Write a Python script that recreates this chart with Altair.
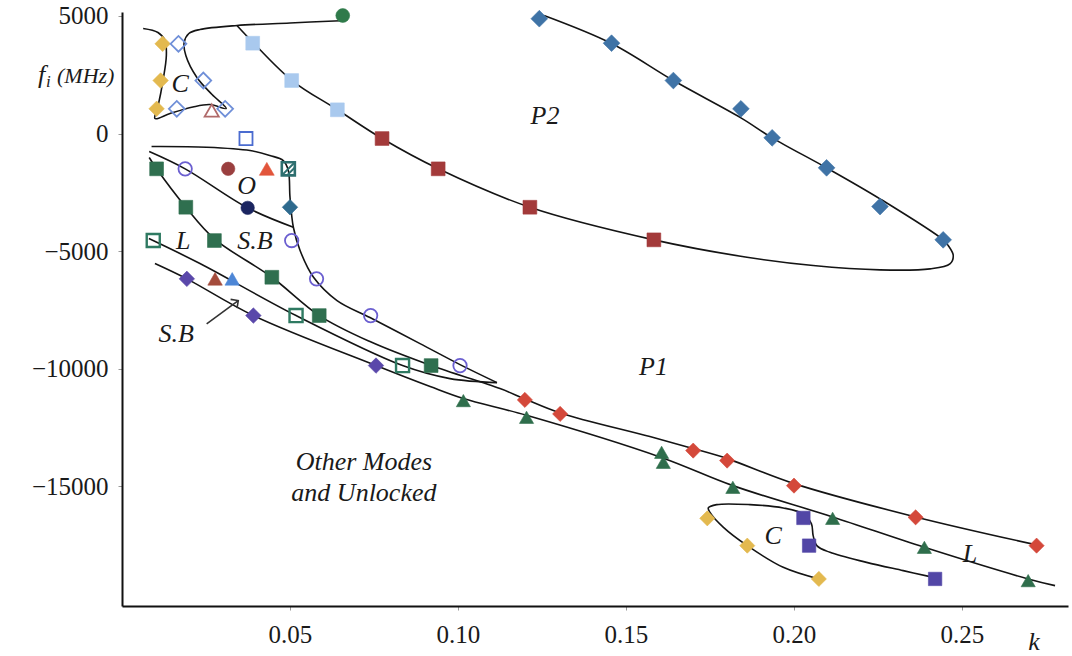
import altair as alt
import pandas as pd

# ---------------- marker series (k = injection strength, f = detuning in MHz) ----------------
p2_upper_k = [0.1242, 0.1457, 0.1641, 0.1842, 0.1935, 0.2097, 0.2256, 0.2444]
p2_upper_f = [4885, 3843, 2255, 1051, -183, -1460, -3106, -4523]

p2_lower_k = [0.0774, 0.0941, 0.1214, 0.1583]
p2_lower_f = [-213, -1502, -3136, -4523]

p2_light_k = [0.0389, 0.0505, 0.0641]
p2_light_f = [3843, 2255, 1009]

top_circle_k = [0.0657]
top_circle_f = [5021]

chaos_top_k = [0.0121, 0.0115, 0.0103]
chaos_top_f = [3817, 2255, 1051]

open_diamond_k = [0.0168, 0.0242, 0.0163, 0.0307]
open_diamond_f = [3817, 2255, 1051, 1051]

open_tri_k = [0.0267]
open_tri_f = [979]

open_blue_sq_k = [0.0369]
open_blue_sq_f = [-213]

green_sq_k = [0.0103, 0.0190, 0.0275, 0.0446, 0.0587, 0.0920]
green_sq_f = [-1502, -3136, -4553, -6115, -7745, -9872]

open_circle_k = [0.0188, 0.0505, 0.0579, 0.0740, 0.1006]
open_circle_f = [-1502, -4553, -6183, -7745, -9872]

brown_circle_k = [0.0316]
brown_circle_f = [-1502]

orange_tri_k = [0.0431]
orange_tri_f = [-1502]

hatched_sq_k = [0.0495]
hatched_sq_f = [-1502]

navy_circle_k = [0.0374]
navy_circle_f = [-3162]

teal_diamond_k = [0.0500]
teal_diamond_f = [-3136]

open_teal_sq_k = [0.0093, 0.0518, 0.0835]
open_teal_sq_f = [-4553, -7745, -9872]

purple_diamond_k = [0.0193, 0.0391, 0.0756]
purple_diamond_f = [-6183, -7745, -9872]

brown_tri_k = [0.0277]
brown_tri_f = [-6183]

blue_tri_k = [0.0328]
blue_tri_f = [-6183]

red_diamond_k = [0.1199, 0.1304, 0.1700, 0.1801, 0.2000, 0.2362, 0.2722]
red_diamond_f = [-11332, -11928, -13489, -13915, -14979, -16328, -17532]

green_tri_k = [0.1016, 0.1204, 0.1606, 0.1611, 0.1818, 0.2115, 0.2388, 0.2697]
green_tri_f = [-11362, -12072, -13562, -13987, -15051, -16370, -17604, -19021]

chaos_low_k = [0.1742, 0.1861, 0.2074]
chaos_low_f = [-16370, -17532, -18949]

purple_sq_k = [0.2028, 0.2045, 0.2420]
purple_sq_f = [-16353, -17532, -18949]

# ---------------- boundary curves ----------------
chaos_loop_k = [0.0063, 0.0107, 0.0128, 0.0132, 0.0122, 0.0107, 0.0098, 0.0143, 0.0211,
                0.0262, 0.0310, 0.0268, 0.0223, 0.0190, 0.0185, 0.0199, 0.0232, 0.0342,
                0.0500, 0.0650]
chaos_loop_f = [4468, 4298, 3957, 3319, 2255, 1149, 638, 851, 1128,
                1234, 1064, 1660, 2383, 3319, 3872, 4255, 4426, 4596,
                4702, 4800]

p2_loop_k = [0.0342, 0.0390, 0.0506, 0.0640, 0.0774, 0.0940, 0.1214, 0.1583, 0.1860,
             0.2057, 0.2256, 0.2405, 0.2464, 0.2474, 0.2459, 0.2444, 0.2256, 0.2097,
             0.1935, 0.1842, 0.1641, 0.1457, 0.1256]
p2_loop_f = [4596, 3872, 2255, 1021, -213, -1489, -3136, -4523, -5264,
             -5617, -5800, -5757, -5545, -5191, -4766, -4523, -2779, -1460,
             -183, 668, 2255, 3830, 5021]

o_upper_k = [0.0088, 0.0252, 0.0381, 0.0440, 0.0480, 0.0495, 0.0500, 0.0510, 0.0530,
             0.0570, 0.0640, 0.0738, 0.0887, 0.1006, 0.1116]
o_upper_f = [-553, -581, -723, -936, -1149, -1574, -2709, -3986, -4978,
             -6115, -7106, -7830, -8937, -9830, -10596]

o_lower_k = [0.0081, 0.0188, 0.0374, 0.0510]
o_lower_f = [-766, -1502, -3162, -3986]

sb_upper_k = [0.0081, 0.0103, 0.0190, 0.0274, 0.0446, 0.0587, 0.0738, 0.0920, 0.1125,
              0.1199, 0.1304, 0.1571, 0.1700, 0.1801, 0.2000, 0.2362, 0.2732]
sb_upper_f = [-1021, -1502, -3136, -4468, -6115, -7745, -8852, -9872, -10851,
              -11290, -11886, -12893, -13404, -13830, -14894, -16311, -17532]

lock_k = [0.0080, 0.0232, 0.0518, 0.0835, 0.0976, 0.1116]
lock_f = [-4468, -5532, -7745, -9872, -10426, -10596]

sb_lower_k = [0.0098, 0.0193, 0.0391, 0.0756, 0.0917, 0.1016, 0.1204, 0.1605, 0.1818,
              0.2115, 0.2388, 0.2697, 0.2777]
sb_lower_f = [-5532, -6183, -7745, -9872, -10766, -11277, -11987, -13781, -14979,
              -16311, -17604, -18949, -19234]

chaos_low_loop_k = [0.2074, 0.1968, 0.1861, 0.1790, 0.1750, 0.1745, 0.1770, 0.1869, 0.1968,
                    0.2028, 0.2052, 0.2057, 0.2068, 0.2107, 0.2216, 0.2325, 0.2405]
chaos_low_loop_f = [-18949, -18455, -17532, -16753, -16115, -15928, -15787, -15787, -15928,
                    -16183, -16609, -17106, -17532, -17817, -18243, -18596, -18851]

# ---------------- region labels ----------------
label_text = ["C", "O", "S.B", "L", "S.B", "P2", "P1", "Other Modes", "and Unlocked", "C", "L"]
label_k = [0.0173, 0.0371, 0.0396, 0.0182, 0.0161, 0.1259, 0.1582, 0.0720, 0.0720, 0.1938, 0.2524]
label_f = [2114, -2213, -4553, -4553, -8520, 766, -9944, -13987, -15276, -17106, -17886]

# arrow pointing from the lower S.B label to its boundary
arrow_k = [0.0252, 0.0346]
arrow_f = [-8094, -7106]

K_TICKS = [0.05, 0.10, 0.15, 0.20, 0.25]
F_TICKS = [5000, 0, -5000, -10000, -15000]
K_DOMAIN = [0, 0.28155]
F_DOMAIN = [-20100, 5170]

FONT = "Liberation Serif, Times New Roman, Times, serif"

xs = alt.Scale(domain=K_DOMAIN, nice=False, zero=False)
ys = alt.Scale(domain=F_DOMAIN, nice=False, zero=False)

x_axis = alt.Axis(values=K_TICKS, format=".2f", title=None,
                  labelFont=FONT, labelFontSize=25, labelColor="#1a1a1a",
                  labelPadding=12, tickSize=4, tickColor="#999999", tickWidth=1,
                  domainColor="#111111", domainWidth=2, grid=False, labelFlush=False)
y_axis = alt.Axis(values=F_TICKS, format="d", title=None,
                  labelFont=FONT, labelFontSize=25, labelColor="#1a1a1a",
                  labelPadding=10, tickSize=4, tickColor="#999999", tickWidth=1,
                  domainColor="#111111", domainWidth=2, grid=False, labelFlush=False)

X = alt.X("k:Q", scale=xs, axis=x_axis)
Y = alt.Y("f:Q", scale=ys, axis=y_axis)


def pts(k, f):
    return pd.DataFrame({"k": k, "f": f})


def marker(k, f, shape, color, filled=True, size=200, stroke_width=1.8):
    if filled:
        m = alt.Chart(pts(k, f)).mark_point(shape=shape, filled=True, fill=color,
                                            stroke=color, strokeWidth=0.6,
                                            size=size, opacity=1)
    else:
        m = alt.Chart(pts(k, f)).mark_point(shape=shape, filled=False, stroke=color,
                                            strokeWidth=stroke_width, size=size, opacity=1)
    return m.encode(x=X, y=Y)


curve_sets = [
    ("chaos_loop", chaos_loop_k, chaos_loop_f),
    ("p2_loop", p2_loop_k, p2_loop_f),
    ("o_upper", o_upper_k, o_upper_f),
    ("o_lower", o_lower_k, o_lower_f),
    ("sb_upper", sb_upper_k, sb_upper_f),
    ("lock", lock_k, lock_f),
    ("sb_lower", sb_lower_k, sb_lower_f),
    ("chaos_low_loop", chaos_low_loop_k, chaos_low_loop_f),
]
curve_rows = []
for name, ks, fs in curve_sets:
    for i, (kk, ff) in enumerate(zip(ks, fs)):
        curve_rows.append({"curve": name, "i": i, "k": kk, "f": ff})
curves_df = pd.DataFrame(curve_rows)

lines = alt.Chart(curves_df).mark_line(interpolate="catmull-rom", color="#141414",
                                       strokeWidth=1.6).encode(
    x=X, y=Y, detail="curve:N", order="i:Q",
)

layers = [lines]

layers += [
    marker(p2_light_k, p2_light_f, "square", "#a9c9ee", size=190),
    marker(p2_upper_k, p2_upper_f, "diamond", "#3f73a6", size=280),
    marker(p2_lower_k, p2_lower_f, "square", "#a33a3a", size=190),
    marker(top_circle_k, top_circle_f, "circle", "#2f7a4a", size=190),
    marker(chaos_top_k, chaos_top_f, "diamond", "#e3b94f", size=240),
    marker(open_diamond_k, open_diamond_f, "diamond", "#6f8fd8", filled=False, size=250),
    marker(open_tri_k, open_tri_f, "triangle-up", "#b06a6a", filled=False, size=200),
    marker(open_blue_sq_k, open_blue_sq_f, "square", "#4b6cd0", filled=False, size=170),
    marker(green_sq_k, green_sq_f, "square", "#2f6f4f", size=190),
    marker(open_circle_k, open_circle_f, "circle", "#6b5fd0", filled=False, size=180),
    marker(brown_circle_k, brown_circle_f, "circle", "#9a3f3f", size=180),
    marker(orange_tri_k, orange_tri_f, "triangle-up", "#e2553b", size=220),
    marker(hatched_sq_k, hatched_sq_f, "square", "#2e6f6f", filled=False, size=170, stroke_width=2.6),
    marker(hatched_sq_k, hatched_sq_f, "M-1,1L1,-1M-0.2,1L1,-0.2", "#2e6f6f", filled=False, size=170, stroke_width=2),
    marker(navy_circle_k, navy_circle_f, "circle", "#1b2560", size=180),
    marker(teal_diamond_k, teal_diamond_f, "diamond", "#2e6a8e", size=240),
    marker(open_teal_sq_k, open_teal_sq_f, "square", "#2f7a62", filled=False, size=170, stroke_width=2.4),
    marker(purple_diamond_k, purple_diamond_f, "diamond", "#5a48aa", size=240),
    marker(brown_tri_k, brown_tri_f, "triangle-up", "#a44c3c", size=210),
    marker(blue_tri_k, blue_tri_f, "triangle-up", "#4d86d6", size=210),
    marker(red_diamond_k, red_diamond_f, "diamond", "#d4483a", size=230),
    marker(green_tri_k, green_tri_f, "triangle-up", "#2f6e4c", size=200),
    marker(chaos_low_k, chaos_low_f, "diamond", "#e3b94f", size=230),
    marker(purple_sq_k, purple_sq_f, "square", "#5246a6", size=180),
]

labels = alt.Chart(pd.DataFrame({"t": label_text, "k": label_k, "f": label_f})).mark_text(
    font=FONT, fontStyle="italic", fontSize=26, color="#1a1a1a", align="center", baseline="middle"
).encode(x=X, y=Y, text="t:N")

arrow_df = pd.DataFrame({"k": arrow_k, "f": arrow_f, "i": [0, 1]})
arrow_shaft = alt.Chart(arrow_df).mark_line(color="#333333", strokeWidth=1.6).encode(
    x=X, y=Y, order="i:Q")
arrow_head = alt.Chart(arrow_df.iloc[[1]]).mark_point(
    shape="M-1,1L0,0L1,1", filled=False, stroke="#333333", strokeWidth=1.6, size=120,
    angle=54, opacity=1).encode(x=X, y=Y)

layers += [labels, arrow_shaft, arrow_head]

# axis captions
k_title = alt.Chart(pd.DataFrame({"t": ["k"]})).mark_text(
    font=FONT, fontStyle="italic", fontSize=26, color="#1a1a1a", align="center", baseline="middle"
).encode(x=alt.value(912), y=alt.value(630), text="t:N")
f_title = alt.Chart(pd.DataFrame({"t": ["f"]})).mark_text(
    font=FONT, fontStyle="italic", fontSize=26, color="#1a1a1a", align="left", baseline="alphabetic"
).encode(x=alt.value(-84), y=alt.value(71), text="t:N")
i_sub = alt.Chart(pd.DataFrame({"t": ["i"]})).mark_text(
    font=FONT, fontStyle="italic", fontSize=17, color="#1a1a1a", align="left", baseline="alphabetic"
).encode(x=alt.value(-76), y=alt.value(75), text="t:N")
mhz = alt.Chart(pd.DataFrame({"t": ["(MHz)"]})).mark_text(
    font=FONT, fontStyle="italic", fontSize=22, color="#1a1a1a", align="left", baseline="alphabetic"
).encode(x=alt.value(-65), y=alt.value(71), text="t:N")

layers += [k_title, f_title, i_sub, mhz]

chart = alt.layer(*layers).properties(
    width=946, height=594,
    autosize="none",
    padding={"left": 122, "top": 12, "right": 4, "bottom": 50},
    background="white",
).configure_view(stroke=None).configure_axis(
    labelFont=FONT, labelFontSize=25, labelColor="#1a1a1a"
)

chart.save("out.html", embed_options={"renderer": "svg", "actions": False})
